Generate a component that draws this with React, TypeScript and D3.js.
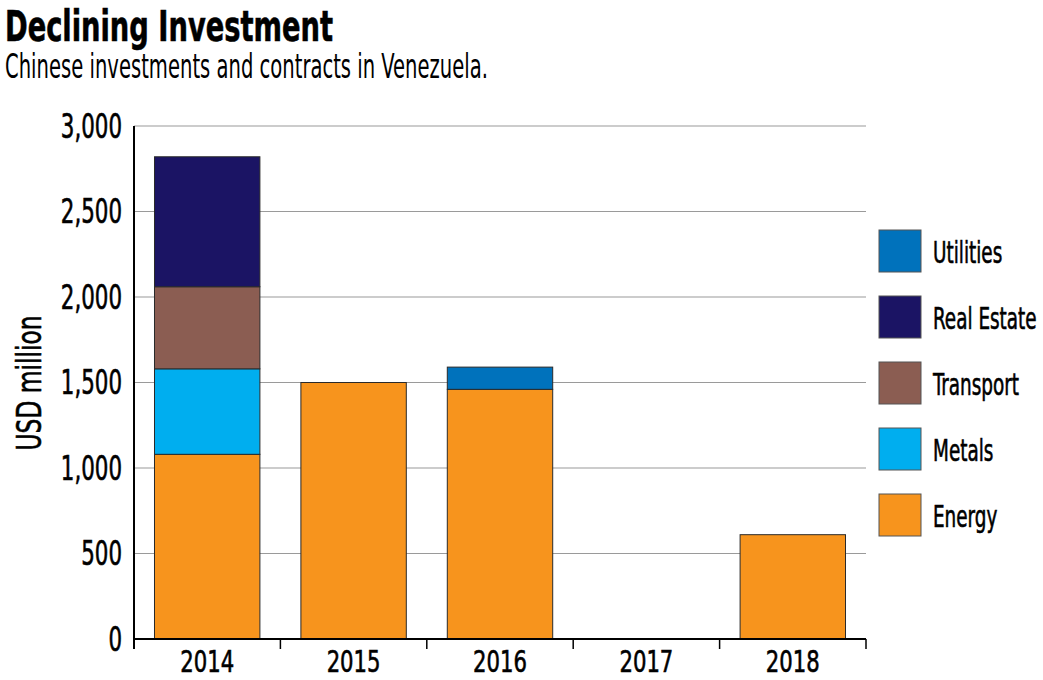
import { useEffect, useRef } from 'react';
import * as d3 from 'd3';

const years = ['2014', '2015', '2016', '2017', '2018'];
const sectors = ['Energy', 'Metals', 'Transport', 'Real Estate', 'Utilities'];
const energy = [1080, 1500, 1460, 0, 610];
const metals = [500, 0, 0, 0, 0];
const transport = [480, 0, 0, 0, 0];
const realEstate = [760, 0, 0, 0, 0];
const utilities = [0, 0, 130, 0, 0];
const yTicks = [0, 500, 1000, 1500, 2000, 2500, 3000];
const colors = ['#f7941d', '#00aeef', '#8b5d52', '#1b1464', '#0072bc'];

const FONT = '"Liberation Sans Narrow", "DejaVu Sans Condensed", "Roboto Condensed", sans-serif';

// the reference uses a very narrow face, so squeeze the text horizontally
function squeeze(sel: d3.Selection<SVGTextElement, any, any, any>, factor: number) {
  sel.each(function () {
    const len = this.getComputedTextLength();
    if (len > 0) {
      d3.select(this).attr('textLength', len * factor).attr('lengthAdjust', 'spacingAndGlyphs');
    }
  });
}

export default function App() {
  const ref = useRef<SVGSVGElement>(null);

  useEffect(() => {
    if (!ref.current) return;
    const svg = d3.select(ref.current);
    svg.selectAll('*').remove();

    const margin = { top: 126, left: 134 };
    const innerW = 732;
    const innerH = 513;
    const g = svg.append('g').attr('transform', `translate(${margin.left},${margin.top})`);

    const x = d3.scaleBand().domain(years).range([0, innerW]).paddingInner(0.28).paddingOuter(0.14);
    const y = d3.scaleLinear().domain([0, 3000]).range([innerH, 0]);
    const step = x.step();

    // grid
    g.selectAll('line.grid')
      .data(yTicks.filter((t) => t > 0))
      .join('line')
      .attr('class', 'grid')
      .attr('x1', 0)
      .attr('x2', innerW)
      .attr('y1', (d) => y(d))
      .attr('y2', (d) => y(d))
      .attr('stroke', '#9a9a9a')
      .attr('stroke-width', 1.2);

    // stacked bars
    const table = years.map((yr, i) => ({
      year: yr,
      Energy: energy[i],
      Metals: metals[i],
      Transport: transport[i],
      'Real Estate': realEstate[i],
      Utilities: utilities[i],
    }));
    const series = d3.stack<any>().keys(sectors)(table);
    series.forEach((s, si) => {
      g.selectAll(`rect.s${si}`)
        .data(s.filter((d) => d[1] - d[0] > 0))
        .join('rect')
        .attr('class', `s${si}`)
        .attr('x', (d) => x(d.data.year) ?? 0)
        .attr('width', x.bandwidth())
        .attr('y', (d) => y(d[1]))
        .attr('height', (d) => y(d[0]) - y(d[1]))
        .attr('fill', colors[si])
        .attr('stroke', '#2a2a2a')
        .attr('stroke-width', 1);
    });

    // axes
    g.append('line').attr('x1', 0).attr('x2', 0).attr('y1', 0).attr('y2', innerH + 10).attr('stroke', '#000').attr('stroke-width', 2);
    g.append('line').attr('x1', 0).attr('x2', innerW).attr('y1', innerH).attr('y2', innerH).attr('stroke', '#000').attr('stroke-width', 2);
    g.selectAll('line.xt')
      .data(years)
      .join('line')
      .attr('class', 'xt')
      .attr('x1', (d) => (x(d) ?? 0) - x.paddingOuter() * step + step)
      .attr('x2', (d) => (x(d) ?? 0) - x.paddingOuter() * step + step)
      .attr('y1', innerH)
      .attr('y2', innerH + 10)
      .attr('stroke', '#000')
      .attr('stroke-width', 1.5);

    const yl = g.selectAll<SVGTextElement, number>('text.yl')
      .data(yTicks)
      .join('text')
      .attr('class', 'yl')
      .attr('x', -12)
      .attr('y', (d) => y(d))
      .attr('dy', '0.36em')
      .attr('text-anchor', 'end')
      .attr('font-family', FONT)
      .attr('font-size', 33)
      .attr('stroke', '#000')
      .attr('stroke-width', 0.6)
      .text((d) => d3.format(',')(d));
    squeeze(yl, 0.72);

    const xl = g.selectAll<SVGTextElement, string>('text.xl')
      .data(years)
      .join('text')
      .attr('class', 'xl')
      .attr('x', (d) => (x(d) ?? 0) + x.bandwidth() / 2)
      .attr('y', innerH + 33)
      .attr('text-anchor', 'middle')
      .attr('font-family', FONT)
      .attr('font-size', 31)
      .attr('stroke', '#000')
      .attr('stroke-width', 0.6)
      .text((d) => d);
    squeeze(xl, 0.76);

    svg.append('text')
      .attr('transform', `translate(41,${margin.top + 257}) rotate(-90)`)
      .attr('text-anchor', 'middle')
      .attr('font-family', FONT)
      .attr('font-size', 34)
      .attr('stroke', '#000')
      .attr('stroke-width', 0.6)
      .attr('textLength', 135)
      .attr('lengthAdjust', 'spacingAndGlyphs')
      .text('USD million');

    // legend, labels squeezed with a scale so their boxes stay inside the page
    const legend = svg.append('g').attr('transform', 'translate(879,230)');
    const order = [...sectors].reverse();
    const sx = 0.66;
    order.forEach((name, i) => {
      const row = legend.append('g').attr('transform', `translate(0,${i * 66})`);
      row.append('rect').attr('width', 42).attr('height', 42).attr('fill', colors[sectors.indexOf(name)]).attr('stroke', '#555').attr('stroke-width', 1);
      row.append('text')
        .attr('transform', `translate(54,22) scale(${sx},1)`)
        .attr('dy', '0.36em')
        .attr('font-family', FONT)
        .attr('font-size', 31)
        .attr('stroke', '#000')
        .attr('stroke-width', 0.6)
        .text(name);
    });

    // titles
    svg.append('text')
      .attr('x', 5)
      .attr('y', 41)
      .attr('font-family', FONT)
      .attr('font-weight', 'bold')
      .attr('font-size', 43)
      .attr('stroke', '#000')
      .attr('stroke-width', 0.6)
      .attr('textLength', 328)
      .attr('lengthAdjust', 'spacingAndGlyphs')
      .text('Declining Investment');
    svg.append('text')
      .attr('x', 5)
      .attr('y', 78)
      .attr('font-family', FONT)
      .attr('font-size', 33)
      .attr('textLength', 483)
      .attr('lengthAdjust', 'spacingAndGlyphs')
      .text('Chinese investments and contracts in Venezuela.');
  }, []);

  return (
    <svg ref={ref} width={1043} height={680} style={{ position: 'absolute', left: 0, top: 0, background: '#fff' }} />
  );
}
